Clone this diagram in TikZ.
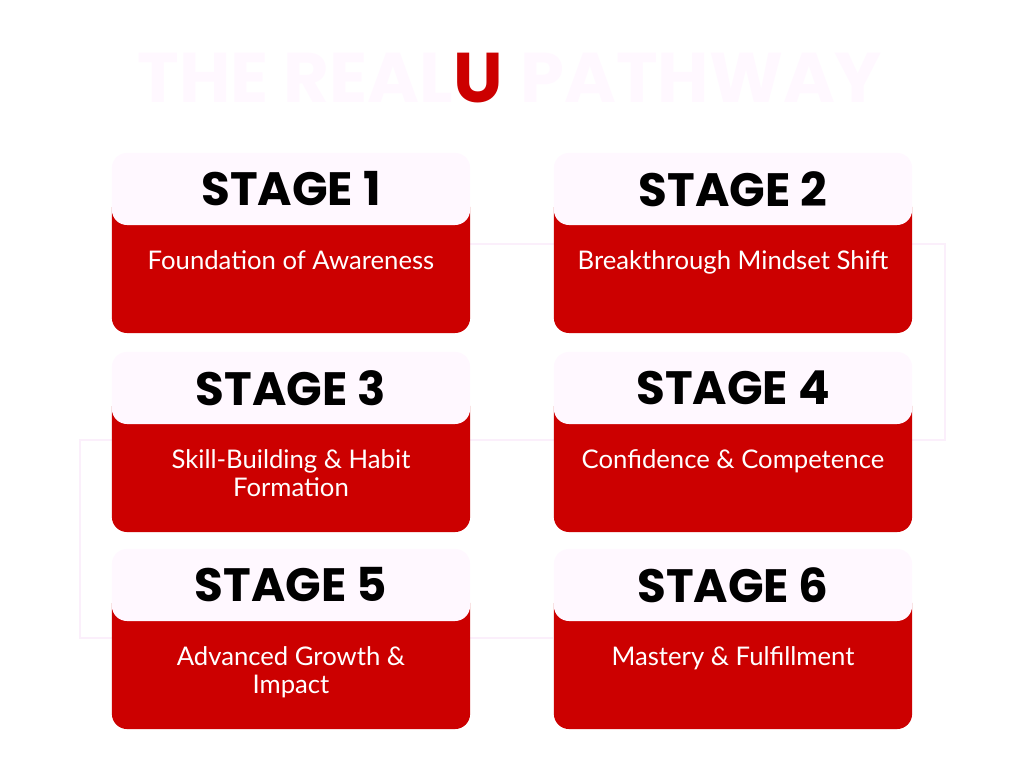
\documentclass[tikz,border=0pt]{standalone}
\usepackage{fontspec}
\setmainfont{Lato}
\newfontfamily\headfont{Poppins}
\usetikzlibrary{positioning}
\definecolor{stagered}{HTML}{CC0000}
\definecolor{blush}{HTML}{FFF8FF}
\definecolor{trail}{HTML}{FBEFFB}
\tikzset{
  body/.style     = {rectangle, rounded corners=4.3pt, fill=stagered, minimum width=3.58cm, minimum height=1.40cm, inner sep=0pt},
  head/.style     = {rectangle, rounded corners=4.3pt, fill=blush, minimum width=3.58cm, minimum height=0.72cm, inner sep=0pt,
                     font=\headfont\bfseries\fontsize{13.3}{14}\selectfont},
  desc/.style     = {anchor=north, inner sep=0pt, align=center, text=white, font=\fontsize{7.3}{8}\selectfont},
  trail line/.style = {trail, line width=0.6pt}
}

\begin{document}
\begin{tikzpicture}[x=0.01cm, y=-0.01cm]
    \useasboundingbox[fill=white] (0,0) rectangle (1024,768);
    % Title
    \node[font=\headfont\bfseries\fontsize{20}{22}\selectfont] (title) at (510,78)
      {\textcolor{blush}{THE REAL}\textcolor{stagered}{U}\hspace{0.25em}\textcolor{blush}{PATHWAY}};
    % Trail behind the stages
    \coordinate (t0) at (470,244);
    \coordinate (t1) at (945,244);
    \coordinate (t2) at (945,440);
    \coordinate (t3) at (80,440);
    \coordinate (t4) at (80,638);
    \coordinate (t5) at (553,638);
    \draw[trail line] (t0) -- (t1) -- (t2) -- (t3) -- (t4) -- (t5);
    % Stage bodies
    \node[body] (b1) at (291,263) {};
    \node[body] (b2) at (733,263) {};
    \node[body] (b3) at (291,462) {};
    \node[body] (b4) at (733,462) {};
    \node[body] (b5) at (291,659) {};
    \node[body] (b6) at (733,659) {};
    % Stage headers
    \node[head] (h1) at (291,189) {STAGE 1};
    \node[head] (h2) at (733,189) {STAGE 2};
    \node[head] (h3) at (291,388) {STAGE 3};
    \node[head] (h4) at (733,388) {STAGE 4};
    \node[head] (h5) at (291,585) {STAGE 5};
    \node[head] (h6) at (733,585) {STAGE 6};
    % Stage texts
    \node[desc] (d1) at (291,250) {Foundation of Awareness};
    \node[desc] (d2) at (733,250) {Breakthrough Mindset Shift};
    \node[desc] (d3) at (291,449) {Skill-Building \& Habit\\Formation};
    \node[desc] (d4) at (733,449) {Confidence \& Competence};
    \node[desc] (d5) at (291,646) {Advanced Growth \&\\Impact};
    \node[desc] (d6) at (733,646) {Mastery \& Fulfillment};
\end{tikzpicture}
\end{document}
